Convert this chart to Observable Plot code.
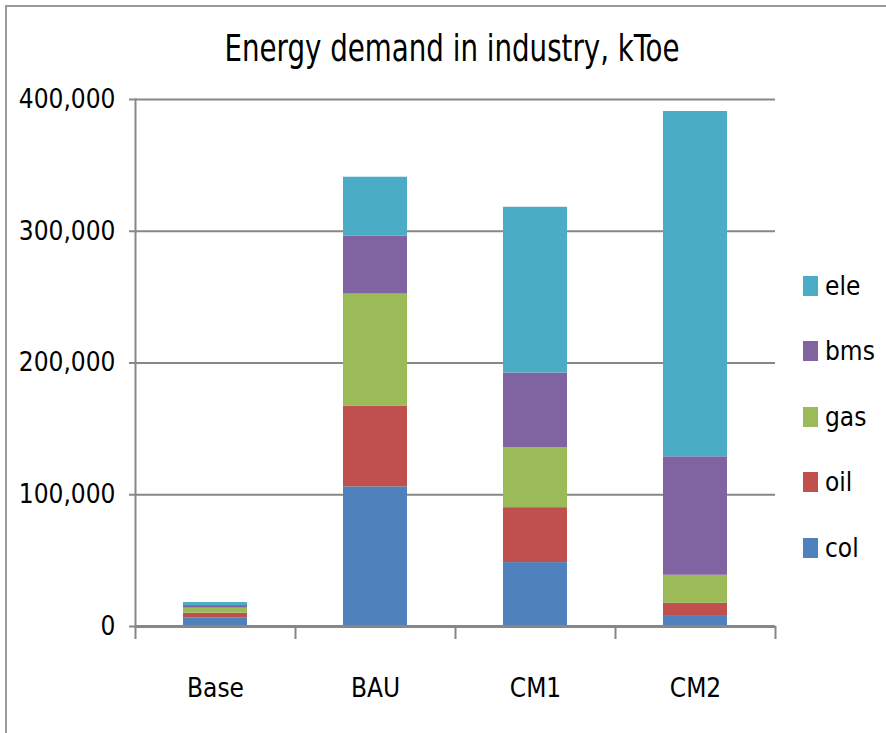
<!DOCTYPE html>
<html>
<head>
<meta charset="utf-8">
<script src="https://cdn.jsdelivr.net/npm/d3@7"></script>
<script src="https://cdn.jsdelivr.net/npm/@observablehq/plot@0.6"></script>
<style>
  html, body { margin: 0; padding: 0; background: #fff; }
  #wrap { position: relative; width: 886px; height: 733px; overflow: hidden;
          font-family: "DejaVu Sans Condensed", sans-serif; }
  #frame { position: absolute; left: 5px; top: 5px; right: -10px; bottom: -10px;
           border-left: 2px solid #9a9a9a; border-top: 2px solid #9a9a9a; }
  #title { position: absolute; left: 0; width: 904px; top: 26px; text-align: center;
           font-size: 38px; color: #000; white-space: nowrap;
           transform: scaleX(0.81); transform-origin: 452px 0; }
  #chart { position: absolute; left: 0; top: 0; }
  #legend { position: absolute; left: 803px; top: 253px; }
  .item { display: flex; align-items: center; height: 65.5px; }
  .sw { width: 15px; height: 20px; margin-right: 7px; }
  .lab { font-size: 26px; color: #000; line-height: 1; }
</style>
</head>
<body>
<div id="wrap">
  <div id="frame"></div>
  <div id="chart"></div>
  <div id="title">Energy demand in industry, kToe</div>
  <div id="legend"></div>
</div>
<script>
const categories = ["Base", "BAU", "CM1", "CM2"];
const series = ["col", "oil", "gas", "bms", "ele"];
const col = [6600, 106000, 48500, 8300];
const oil = [3500, 61400, 41700, 9300];
const gas = [3800, 84900, 45400, 21300];
const bms = [2000, 43900, 56800, 89900];
const ele = [2300, 44800, 125800, 262100];
const colors = ["#4F81BD", "#C0504D", "#9BBB59", "#8064A2", "#4BACC6"];
const yTicks = [0, 100000, 200000, 300000, 400000];

const values = [col, oil, gas, bms, ele];
const data = categories.flatMap((c, i) =>
  series.map((s, j) => ({category: c, series: s, value: values[j][i]})));

const grid = "#878787";
const chart = Plot.plot({
  width: 886,
  height: 733,
  marginLeft: 135,
  marginRight: 111,
  marginTop: 99,
  marginBottom: 107,
  style: {fontFamily: '"DejaVu Sans Condensed", sans-serif', fontSize: "26px", color: "#000", background: "transparent"},
  x: {domain: categories, paddingInner: 0.6, paddingOuter: 0.3, align: 0.5},
  y: {domain: [0, 400000]},
  color: {domain: series, range: colors},
  marks: [
    Plot.ruleY(yTicks.filter(v => v > 0), {stroke: grid, strokeWidth: 2}),
    Plot.barY(data, {x: "category", y: "value", fill: "series", order: series}),
    Plot.frame({anchor: "left", stroke: grid, strokeWidth: 2}),
    Plot.axisY({ticks: yTicks, tickFormat: d3.format(","), tickSize: 6, tickPadding: 14,
                stroke: grid, strokeWidth: 2, label: null, fontSize: 26}),
    Plot.axisX({tickSize: 0, tickPadding: 52, label: null, fontSize: 26}),
    Plot.axisX({ticks: categories, tickSize: 13, tickFormat: () => "", dx: -80,
                stroke: grid, strokeWidth: 2, label: null}),
    Plot.axisX({ticks: categories.slice(-1), tickSize: 13, tickFormat: () => "", dx: 80,
                stroke: grid, strokeWidth: 2, label: null}),
    Plot.ruleY([0], {stroke: grid, strokeWidth: 3})
  ]
});
document.getElementById("chart").appendChild(chart);

const legend = document.getElementById("legend");
series.slice().reverse().forEach(s => {
  const item = document.createElement("div");
  item.className = "item";
  const sw = document.createElement("div");
  sw.className = "sw";
  sw.style.background = colors[series.indexOf(s)];
  const lab = document.createElement("span");
  lab.className = "lab";
  lab.textContent = s;
  item.appendChild(sw);
  item.appendChild(lab);
  legend.appendChild(item);
});
</script>
</body>
</html>
